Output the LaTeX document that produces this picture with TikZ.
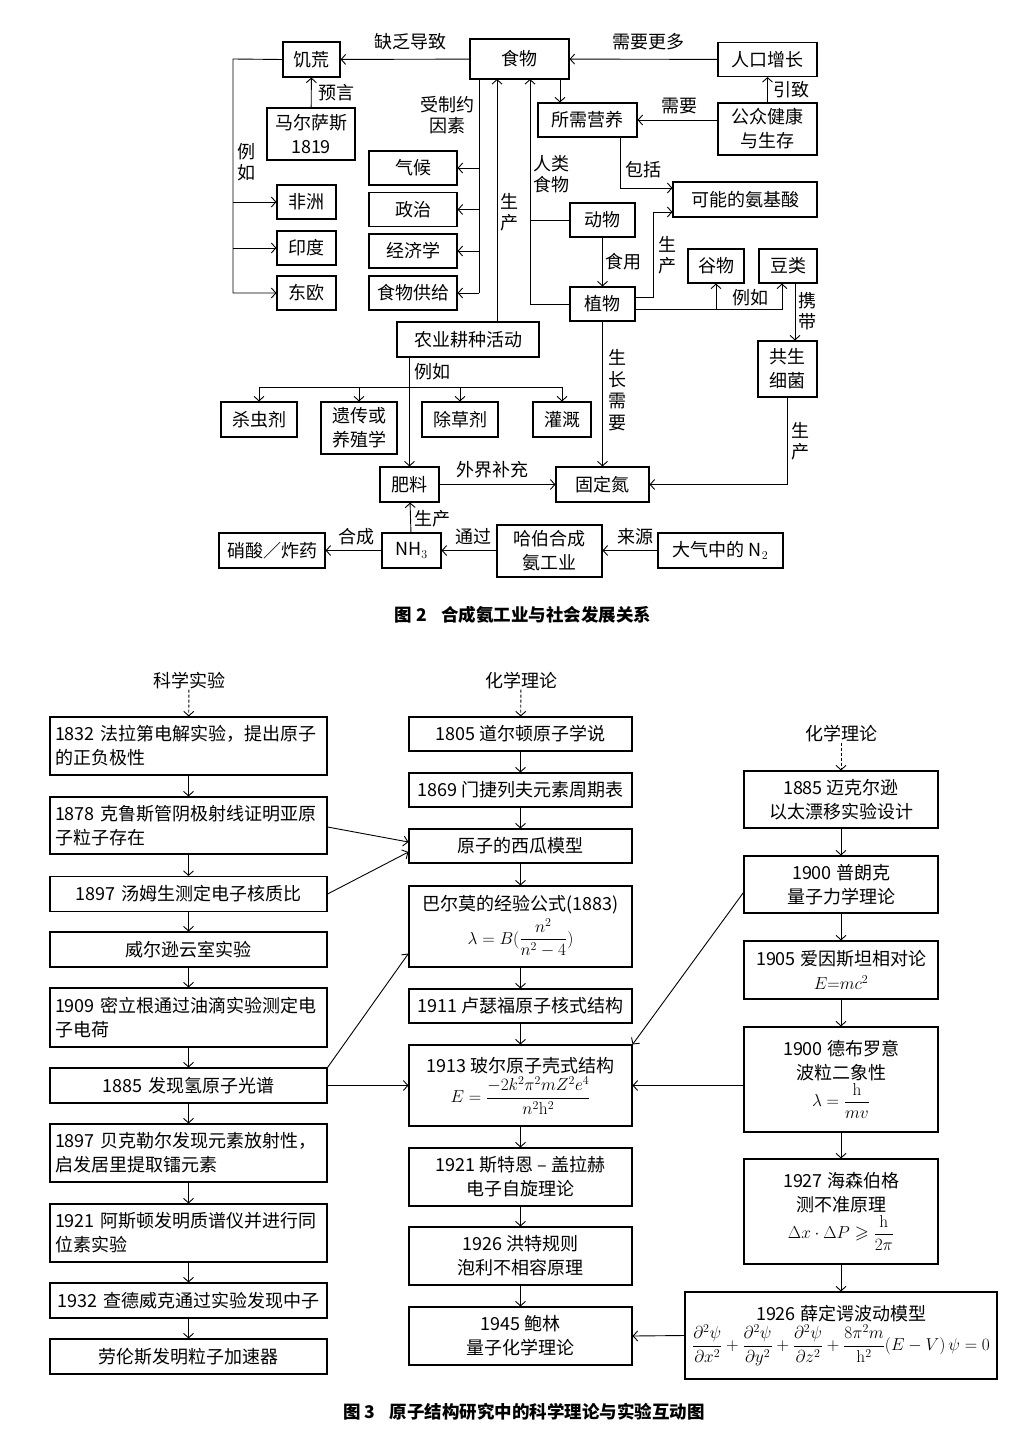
\documentclass[tikz,border=0pt]{standalone}
\usepackage{amsmath,amssymb}
\usepackage[no-math]{fontspec}
\setmainfont{Noto Sans CJK SC}
\usetikzlibrary{arrows.meta,positioning,calc}
\tikzset{
  ambox/.style={draw, rectangle, line width=1.1pt, inner sep=3pt, align=center,
    font=\fontsize{18}{24}\selectfont},
  expbox/.style={ambox, text width=267pt, inner xsep=5pt, minimum height=35pt},
  theobox/.style={ambox, minimum width=223pt},
  quanbox/.style={ambox, minimum width=194pt},
  amarrow/.style={-{Straight Barb[length=4.5pt,width=10pt]}, line width=0.9pt},
  amdarrow/.style={-{Straight Barb[length=4.5pt,width=10pt]}, line width=0.9pt,
    dash pattern=on 3pt off 2pt},
  amline/.style={line width=0.9pt},
  amlabel/.style={font=\fontsize{18}{21.5}\selectfont, align=center, inner sep=0pt},
  amcap/.style={font=\fontsize{17.5}{20}\selectfont\bfseries},
}

\begin{document}
\begin{tikzpicture}[x=1pt, y=-1pt]
  \useasboundingbox (0,0) rectangle (1032,1450);

  % figure 2
  \node[ambox, minimum width=99pt, minimum height=40pt] (shiwu) at (519.5,59) {食物};
  \node[ambox, minimum width=57pt, minimum height=35pt] (jihuang) at (311.5,59.5) {饥荒};
  \node[ambox, minimum width=99pt, minimum height=34pt] (renkou) at (767.5,59.5) {人口增长};
  \node[ambox, minimum width=88pt, minimum height=52pt] (malthus) at (311,134) {马尔萨斯\\1819};
  \node[ambox, minimum width=99pt, minimum height=34pt] (yingyang) at (587.5,120) {所需营养};
  \node[ambox, minimum width=99pt, minimum height=52pt] (jiankang) at (767.5,129) {公众健康\\与生存};
  \node[ambox, minimum width=144pt, minimum height=35pt] (anjisuan) at (745,199.5) {可能的氨基酸};
  \node[ambox, minimum width=65pt, minimum height=34pt] (dongwu) at (602.5,220) {动物};
  \node[ambox, minimum width=65pt, minimum height=34pt] (zhiwu) at (602.5,304) {植物};
  \node[ambox, minimum width=56pt, minimum height=34pt] (guwu) at (716,266) {谷物};
  \node[ambox, minimum width=58pt, minimum height=34pt] (doulei) at (788,266) {豆类};
  \node[ambox, minimum width=59pt, minimum height=56pt] (xijun) at (787.5,369) {共生\\细菌};
  \node[ambox, minimum width=93pt, minimum height=35pt] (guding) at (602.5,484.5) {固定氮};

  \node[ambox, minimum width=88pt, minimum height=34pt] (qihou) at (413,168) {气候};
  \node[ambox, minimum width=88pt, minimum height=34pt] (zhengzhi) at (413,209.5) {政治};
  \node[ambox, minimum width=88pt, minimum height=34pt] (jingji) at (413,251) {经济学};
  \node[ambox, minimum width=88pt, minimum height=34pt] (gongji) at (413,293) {食物供给};

  \node[ambox, minimum width=59pt, minimum height=34pt] (feizhou) at (306.5,202) {非洲};
  \node[ambox, minimum width=59pt, minimum height=34pt] (yindu) at (306.5,248) {印度};
  \node[ambox, minimum width=59pt, minimum height=34pt] (dongou) at (306.5,293) {东欧};

  \node[ambox, minimum width=142pt, minimum height=35pt] (nongye) at (468,339.5) {农业耕种活动};
  \node[ambox, minimum width=76pt, minimum height=35pt] (shachong) at (259,419.5) {杀虫剂};
  \node[ambox, minimum width=76pt, minimum height=52pt] (yichuan) at (359,428) {遗传或\\养殖学};
  \node[ambox, minimum width=76pt, minimum height=35pt] (chucao) at (460,419.5) {除草剂};
  \node[ambox, minimum width=58pt, minimum height=35pt] (guangai) at (562,419.5) {灌溉};

  \node[ambox, minimum width=59pt, minimum height=35pt] (feiliao) at (409.5,484.5) {肥料};
  \node[ambox, minimum width=59pt, minimum height=35pt] (nh) at (411.5,550.5) {NH$_3$};
  \node[ambox, minimum width=106pt, minimum height=35pt] (xiaosuan) at (272,550.5) {硝酸／炸药};
  \node[ambox, minimum width=105pt, minimum height=52pt] (haber) at (549.5,551) {哈伯合成\\氨工业};
  \node[ambox, minimum width=125pt, minimum height=35pt] (daqi) at (720.5,550.5) {大气中的 N$_2$};

  \coordinate (jhx) at (233,59);
  \coordinate (ysx) at (560,79);
  \coordinate (rlx) at (530,79);
  \coordinate (zyx) at (479,79);
  \coordinate (scx) at (497,79);
  \coordinate (bkx) at (620,188);
  \coordinate (scy) at (653,212);
  \coordinate (ljy) at (782,309);
  \coordinate (egy) at (257,387);

  \draw[amarrow] (shiwu) -- (jihuang);
  \draw[amarrow] (renkou) -- (shiwu);
  \draw[amarrow] (malthus) -- (jihuang);
  \draw[amarrow] (jihuang.west) -- (jhx) |- (dongou.west);
  \draw[amarrow] (jhx |- feizhou.west) -- (feizhou.west);
  \draw[amarrow] (jhx |- yindu.west) -- (yindu.west);
  \draw[amarrow] (shiwu.south -| ysx) -- (yingyang.north -| ysx);
  \draw[amarrow] (jiankang.west |- yingyang.east) -- (yingyang.east);
  \draw[amarrow] (jiankang) -- (renkou);
  \draw[amarrow] (yingyang.south -| bkx) |- ([yshift=11.5pt]anjisuan.west);
  \draw[amarrow] ([yshift=7pt]zhiwu.east) -| (scy) -- ([yshift=-12.5pt]anjisuan.west);
  \draw[amarrow] ([yshift=-5pt]zhiwu.east) -| ([xshift=-6pt]doulei.south);
  \draw[amarrow] (guwu.south |- ljy) -- (guwu.south);
  \draw[amarrow] ([xshift=7pt]doulei.south) -- ([xshift=7pt]doulei.south |- xijun.north);
  \draw[amarrow] (xijun.south) |- (guding.east);
  \draw[amarrow] (zhiwu) -- (guding);
  \draw[amarrow] (dongwu) -- (zhiwu);
  \draw[amline] (dongwu.west) -- (dongwu.west -| rlx);
  \draw[amarrow] (zhiwu.west) -| (rlx);
  \draw[amline] (zyx) -- (zyx |- gongji.east);
  \draw[amarrow] (zyx |- qihou.east) -- (qihou.east);
  \draw[amarrow] (zyx |- zhengzhi.east) -- (zhengzhi.east);
  \draw[amarrow] (zyx |- jingji.east) -- (jingji.east);
  \draw[amarrow] (zyx |- gongji.east) -- (gongji.east);
  \draw[amarrow] (nongye.north -| scx) -- (scx);
  \draw[amarrow] (nongye.south -| feiliao.north) -- (feiliao.north);
  \draw[amline] (shachong.north |- egy) -- (guangai.north |- egy);
  \draw[amarrow] (shachong.north |- egy) -- (shachong.north);
  \draw[amarrow] (yichuan.north |- egy) -- (yichuan.north);
  \draw[amarrow] (chucao.north |- egy) -- (chucao.north);
  \draw[amarrow] (guangai.north |- egy) -- (guangai.north);
  \draw[amarrow] (feiliao) -- (guding);
  \draw[amarrow] (nh) -- (feiliao);
  \draw[amarrow] (nh) -- (xiaosuan);
  \draw[amarrow] (haber.west |- nh.east) -- (nh.east);
  \draw[amarrow] (daqi.west) -- (haber.east |- daqi.west);

  \node[amlabel] (lqf) at (410,42) {缺乏导致};
  \node[amlabel] (lxy) at (648,42) {需要更多};
  \node[amlabel] (lyy) at (336,93) {预言};
  \node[amlabel] (lelr) at (246,162) {例\\如};
  \node[amlabel] (lzy) at (447,115) {受制约\\因素};
  \node[amlabel] (lsc) at (509,212) {生\\产};
  \node[amlabel] (lrl) at (551,174) {人类\\食物};
  \node[amlabel] (lxq) at (679,106) {需要};
  \node[amlabel] (lyz) at (791,90) {引致};
  \node[amlabel] (lbk) at (643,170) {包括};
  \node[amlabel] (lsca) at (667,255) {生\\产};
  \node[amlabel] (lsy) at (623,262) {食用};
  \node[amlabel] (lelg) at (750,298) {例如};
  \node[amlabel] (lxd) at (807,311) {携\\带};
  \node[amlabel] (lszx) at (617,390) {生\\长\\需\\要};
  \node[amlabel] (lscx) at (800,441) {生\\产};
  \node[amlabel] (lelf) at (432,372) {例如};
  \node[amlabel] (lwj) at (492,470) {外界补充};
  \node[amlabel] (lscn) at (432,519) {生产};
  \node[amlabel] (lhc) at (356,537) {合成};
  \node[amlabel] (ltg) at (473,537) {通过};
  \node[amlabel] (lly) at (635,537) {来源};

  \node[amcap] (cap2) at (523,615) {图 2\hspace{14pt}合成氨工业与社会发展关系};

  % figure 3
  \node[amlabel] (hexp) at (189,681) {科学实验};
  \node[amlabel] (htheo) at (521,681) {化学理论};
  \node[amlabel] (hquan) at (841,734) {化学理论};

  \node[expbox, align=left, minimum height=58pt] (e1832) at (188.5,746) {1832~法拉第电解实验，提出原子\\的正负极性};
  \node[expbox, align=left, minimum height=57pt] (e1878) at (188.5,825.5) {1878~克鲁斯管阴极射线证明亚原\\子粒子存在};
  \node[expbox] (e1897) at (188.5,894) {1897 汤姆生测定电子核质比};
  \node[expbox] (ewilson) at (188.5,949.5) {威尔逊云室实验};
  \node[expbox, align=left, minimum height=59pt] (e1909) at (188.5,1017.5) {1909~密立根通过油滴实验测定电\\子电荷};
  \node[expbox] (e1885) at (188.5,1085.5) {1885 发现氢原子光谱};
  \node[expbox, align=left, minimum height=58pt] (e1897b) at (188.5,1153) {1897~贝克勒尔发现元素放射性，\\启发居里提取镭元素};
  \node[expbox, align=left, minimum height=58pt] (e1921) at (188.5,1233) {1921~阿斯顿发明质谱仪并进行同\\位素实验};
  \node[expbox] (e1932) at (188.5,1300.5) {1932 查德威克通过实验发现中子};
  \node[expbox] (elawrence) at (188.5,1356.5) {劳伦斯发明粒子加速器};

  \node[theobox, minimum height=34pt] (t1805) at (520.5,734) {1805 道尔顿原子学说};
  \node[theobox, minimum height=34pt] (t1869) at (520.5,790) {1869 门捷列夫元素周期表};
  \node[theobox, minimum height=34pt] (txigua) at (520.5,846) {原子的西瓜模型};
  \node[theobox, minimum height=81pt] (tbalmer) at (520.5,926.5)
    {巴尔莫的经验公式(1883)\\[3pt]$\lambda=B(\dfrac{n^2}{n^2-4})$};
  \node[theobox, minimum height=34pt] (t1911) at (520.5,1006) {1911 卢瑟福原子核式结构};
  \node[theobox, minimum height=81pt] (t1913) at (520.5,1085.5)
    {1913 玻尔原子壳式结构\\[2pt]$E=\dfrac{-2k^2\pi^2mZ^2e^4}{n^2\mathrm{h}^2}$};
  \node[theobox, minimum height=58pt] (t1921) at (520.5,1177) {1921 斯特恩 – 盖拉赫\\电子自旋理论};
  \node[theobox, minimum height=58pt] (t1926) at (520.5,1256) {1926 洪特规则\\泡利不相容原理};
  \node[theobox, minimum height=58pt] (t1945) at (520.5,1336) {1945 鲍林\\量子化学理论};

  \node[quanbox, minimum height=57pt] (r1885) at (841,799.5) {1885 迈克尔逊\\以太漂移实验设计};
  \node[quanbox, minimum height=57pt] (r1900) at (841,884.5) {1900 普朗克\\量子力学理论};
  \node[quanbox, minimum height=58pt] (r1905) at (841,970) {1905 爱因斯坦相对论\\$E{=}mc^2$};
  \node[quanbox, minimum height=105pt] (r1900b) at (841,1079.5)
    {1900 德布罗意\\波粒二象性\\[1pt]$\lambda=\dfrac{\mathrm{h}}{mv}$};
  \node[quanbox, minimum height=105pt] (r1927) at (841,1211.5)
    {1927 海森伯格\\测不准原理\\[1pt]$\Delta x\cdot\Delta P\geqslant\dfrac{\mathrm{h}}{2\pi}$};
  \node[ambox, minimum width=312pt, minimum height=87pt] (r1926) at (841,1335.5)
    {1926 薛定谔波动模型\\[2pt]$\dfrac{\partial^2\psi}{\partial x^2}+\dfrac{\partial^2\psi}{\partial y^2}
     +\dfrac{\partial^2\psi}{\partial z^2}+\dfrac{8\pi^2m}{\mathrm{h}^2}(E-V)\,\psi=0$};

  \draw[amdarrow] (hexp) -- (e1832);
  \draw[amdarrow] (htheo) -- (t1805);
  \draw[amdarrow] (hquan) -- (r1885);

  \draw[amarrow] (e1832) -- (e1878);
  \draw[amarrow] (e1878) -- (e1897);
  \draw[amarrow] (e1897) -- (ewilson);
  \draw[amarrow] (ewilson) -- (e1909);
  \draw[amarrow] (e1909) -- (e1885);
  \draw[amarrow] (e1885) -- (e1897b);
  \draw[amarrow] (e1897b) -- (e1921);
  \draw[amarrow] (e1921) -- (e1932);
  \draw[amarrow] (e1932) -- (elawrence);

  \draw[amarrow] (t1805) -- (t1869);
  \draw[amarrow] (t1869) -- (txigua);
  \draw[amarrow] (txigua) -- (tbalmer);
  \draw[amarrow] (tbalmer) -- (t1911);
  \draw[amarrow] (t1911) -- (t1913);
  \draw[amarrow] (t1913) -- (t1921);
  \draw[amarrow] (t1921) -- (t1926);
  \draw[amarrow] (t1926) -- (t1945);

  \draw[amarrow] (r1885) -- (r1900);
  \draw[amarrow] (r1900) -- (r1905);
  \draw[amarrow] (r1905) -- (r1900b);
  \draw[amarrow] (r1900b) -- (r1927);
  \draw[amarrow] (r1927) -- (r1926);

  \draw[amarrow] ([yshift=-1.5pt]e1878.east) -- ([yshift=4pt]txigua.west);
  \draw[amarrow] (e1897.east) -- ([yshift=-6pt]txigua.west);
  \draw[amarrow] (e1885.north east) -- ([yshift=14pt]tbalmer.south west);
  \draw[amarrow] (e1885.east) -- (t1913.west |- e1885.east);
  \draw[amarrow] ([yshift=-8pt]r1900.west) -- (t1913.north east);
  \draw[amarrow] (r1900b.west |- t1913.east) -- (t1913.east);
  \draw[amarrow] (r1926.west) -- (t1945.east);

  \node[amcap] (cap3) at (524,1412) {图 3\hspace{14pt}原子结构研究中的科学理论与实验互动图};
\end{tikzpicture}
\end{document}
